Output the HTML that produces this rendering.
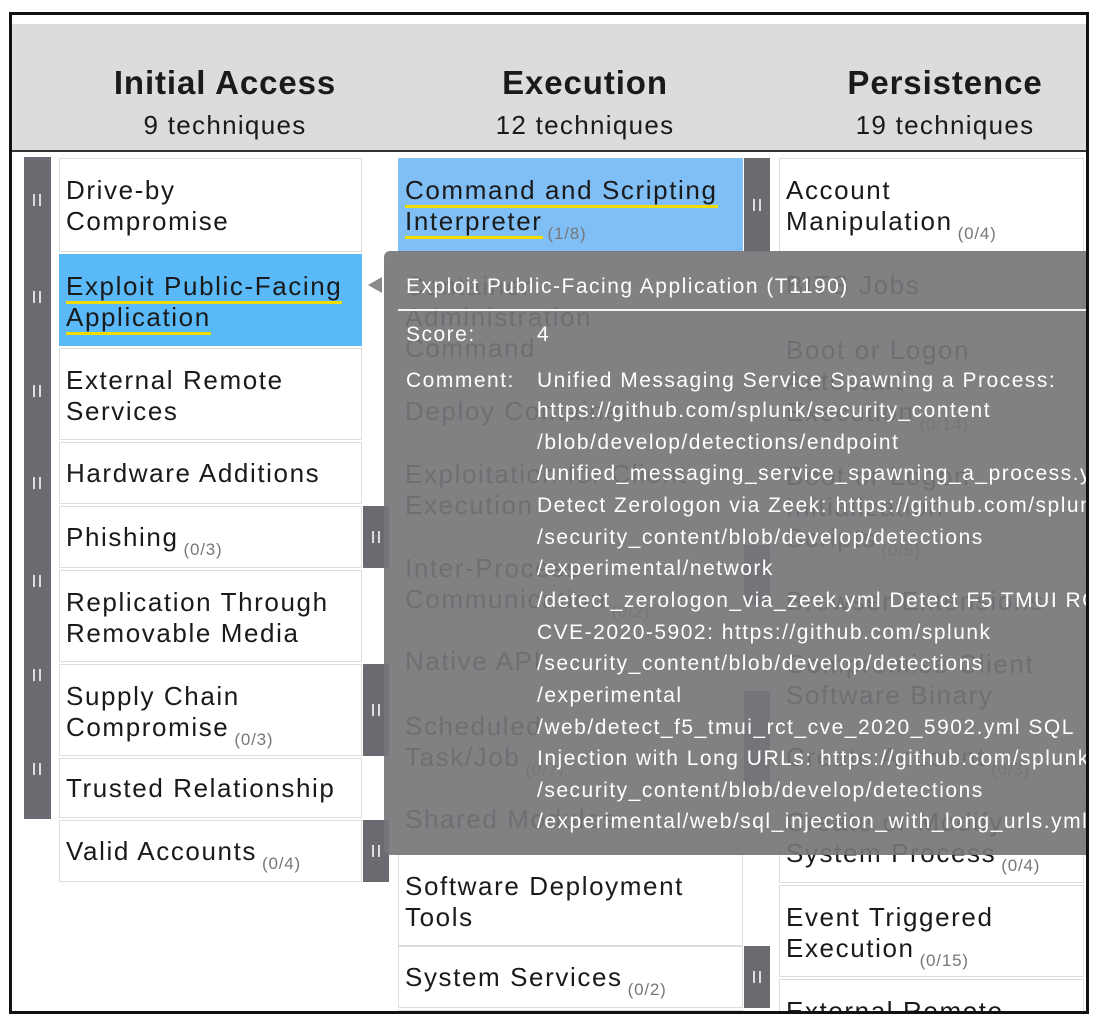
<!DOCTYPE html>
<html><head><meta charset="utf-8"><style>
*{margin:0;padding:0;box-sizing:border-box}
body{width:1100px;height:1028px;background:#fff;position:relative;overflow:hidden;font-family:"Liberation Sans",Arial,sans-serif;color:#1a1a1a}
.frame{position:absolute;left:9px;top:12px;width:1080px;height:1002px;border:3px solid #111;overflow:hidden;background:#fff}
.hdr{position:absolute;left:0;top:9px;width:1080px;height:128px;background:#dcdbdd;border-bottom:2px solid #333}
.ht{position:absolute;width:340px;text-align:center;font-weight:bold;font-size:33px;letter-spacing:0.9px;top:40px}
.hs{position:absolute;width:340px;text-align:center;font-size:26px;letter-spacing:1.3px;top:86px}
.c{position:absolute;border:1px solid #ddd;background:#fff;font-size:26px;letter-spacing:1.6px;line-height:31px;padding:16px 0 0 6px;white-space:nowrap;overflow:hidden}
.s{font-size:17px;letter-spacing:0.8px;color:#777;position:relative;top:9px;margin-left:5px}
.bar{position:absolute;background:#6a6b70}
.h{position:absolute;background:#6a6b70;width:26px}
.ii{position:absolute;width:8px;height:12px;border-left:2px solid #ddd;border-right:2px solid #ddd;left:9px}
.u{border-bottom:3px solid #f0dc00;padding-bottom:0}
.tip{position:absolute;left:372px;top:236px;width:720px;height:604px;background:rgba(118,117,120,0.92);border-radius:6px 0 0 6px;overflow:hidden;color:#fff;font-size:21px;letter-spacing:1.5px;white-space:nowrap}
.tl{position:absolute;left:153px;}
</style></head><body>
<div class="frame">
<div class="hdr">
<div class="ht" style="left:43px">Initial Access</div><div class="hs" style="left:43px">9 techniques</div>
<div class="ht" style="left:403px">Execution</div><div class="hs" style="left:403px">12 techniques</div>
<div class="ht" style="left:763px">Persistence</div><div class="hs" style="left:763px">19 techniques</div>
</div>
<div class="bar" style="left:12px;top:142px;width:27px;height:662px"></div>
<div class="ii" style="left:21px;top:179px"></div>
<div class="ii" style="left:21px;top:276px"></div>
<div class="ii" style="left:21px;top:370px"></div>
<div class="ii" style="left:21px;top:462px"></div>
<div class="ii" style="left:21px;top:560px"></div>
<div class="ii" style="left:21px;top:654px"></div>
<div class="ii" style="left:21px;top:748px"></div>
<div class="c" style="left:47px;top:143px;width:303px;height:94px">Drive-by<br>Compromise</div>
<div class="c" style="left:47px;top:239px;width:303px;height:92px;background:#5ab9f8;border-color:#5ab9f8"><span class="u">Exploit Public-Facing</span><br><span class="u">Application</span></div>
<div class="c" style="left:47px;top:333px;width:303px;height:92px">External Remote<br>Services</div>
<div class="c" style="left:47px;top:427px;width:303px;height:62px;padding-top:15px">Hardware Additions</div>
<div class="c" style="left:47px;top:491px;width:303px;height:62px;padding-top:15px">Phishing<span class="s">(0/3)</span></div>
<div class="c" style="left:47px;top:555px;width:303px;height:92px">Replication Through<br>Removable Media</div>
<div class="c" style="left:47px;top:649px;width:303px;height:92px">Supply Chain<br>Compromise<span class="s">(0/3)</span></div>
<div class="c" style="left:47px;top:743px;width:303px;height:60px;padding-top:14px">Trusted Relationship</div>
<div class="c" style="left:47px;top:805px;width:303px;height:62px;padding-top:15px">Valid Accounts<span class="s">(0/4)</span></div>
<div class="h" style="left:351px;top:491px;height:62px"><div class="ii" style="top:25px"></div></div>
<div class="h" style="left:351px;top:649px;height:92px"><div class="ii" style="top:40px"></div></div>
<div class="h" style="left:351px;top:805px;height:62px"><div class="ii" style="top:25px"></div></div>
<div class="c" style="left:386px;top:143px;width:345px;height:94px;background:#80bff6;border-color:#80bff6"><span class="u">Command and Scripting</span><br><span class="u">Interpreter</span><span class="s">(1/8)</span></div>
<div class="h" style="left:732px;top:143px;height:94px"><div class="ii" style="top:41px"></div></div>
<div class="c" style="left:386px;top:239px;width:345px;height:124px">Container<br>Administration<br>Command</div>
<div class="c" style="left:386px;top:365px;width:345px;height:62px;padding-top:15px">Deploy Container</div>
<div class="c" style="left:386px;top:427px;width:345px;height:92px">Exploitation for Client<br>Execution</div>
<div class="c" style="left:386px;top:521px;width:345px;height:92px">Inter-Process<br>Communication<span class="s">(0/2)</span></div>
<div class="c" style="left:386px;top:615px;width:345px;height:62px;padding-top:15px">Native API</div>
<div class="c" style="left:386px;top:679px;width:345px;height:92px">Scheduled<br>Task/Job<span class="s">(0/7)</span></div>
<div class="c" style="left:386px;top:773px;width:345px;height:62px;padding-top:15px">Shared Modules</div>
<div class="c" style="left:386px;top:839px;width:345px;height:92px">Software Deployment<br>Tools</div>
<div class="c" style="left:386px;top:931px;width:345px;height:62px;padding-top:15px">System Services<span class="s">(0/2)</span></div>
<div class="c" style="left:386px;top:995px;width:345px;height:40px"></div>
<div class="h" style="left:732px;top:530px;height:60px"></div>
<div class="h" style="left:732px;top:676px;height:94px"></div>
<div class="h" style="left:732px;top:931px;height:62px"><div class="ii" style="top:25px"></div></div>
<div class="c" style="left:767px;top:143px;width:305px;height:94px">Account<br>Manipulation<span class="s">(0/4)</span></div>
<div class="c" style="left:767px;top:239px;width:305px;height:62px;padding-top:15px">BITS Jobs</div>
<div class="c" style="left:767px;top:303px;width:305px;height:124px">Boot or Logon<br>Autostart<br>Execution<span class="s">(0/14)</span></div>
<div class="c" style="left:767px;top:429px;width:305px;height:124px">Boot or Logon<br>Initialization<br>Scripts<span class="s">(0/5)</span></div>
<div class="c" style="left:767px;top:555px;width:305px;height:62px;padding-top:15px">Browser Extensions</div>
<div class="c" style="left:767px;top:617px;width:305px;height:92px">Compromise Client<br>Software Binary</div>
<div class="c" style="left:767px;top:711px;width:305px;height:62px;padding-top:15px">Create Account<span class="s">(0/3)</span></div>
<div class="c" style="left:767px;top:775px;width:305px;height:93px">Create or Modify<br>System Process<span class="s">(0/4)</span></div>
<div class="c" style="left:767px;top:870px;width:305px;height:92px">Event Triggered<br>Execution<span class="s">(0/15)</span></div>
<div class="c" style="left:767px;top:964px;width:305px;height:60px">External Remote</div>
<div style="position:absolute;left:356px;top:262px;width:0;height:0;border-top:8px solid transparent;border-bottom:8px solid transparent;border-right:14px solid #8a898c"></div>
<div class="tip">
<div style="position:absolute;left:22px;top:24px">Exploit Public-Facing Application (T1190)</div>
<div style="position:absolute;left:14px;top:58px;width:720px;height:2px;background:#f4f4f4"></div>
<div style="position:absolute;left:22px;top:72px">Score:</div>
<div style="position:absolute;left:153px;top:72px">4</div>
<div style="position:absolute;left:22px;top:118px">Comment:</div>
<div class="tl" style="top:118px">Unified Messaging Service Spawning a Process:</div>
<div class="tl" style="top:148px">https://github.com/splunk/security_content</div>
<div class="tl" style="top:180px">/blob/develop/detections/endpoint</div>
<div class="tl" style="top:211px">/unified_messaging_service_spawning_a_process.yml</div>
<div class="tl" style="top:243px">Detect Zerologon via Zeek: https://github.com/splunk</div>
<div class="tl" style="top:275px">/security_content/blob/develop/detections</div>
<div class="tl" style="top:306px">/experimental/network</div>
<div class="tl" style="top:338px">/detect_zerologon_via_zeek.yml Detect F5 TMUI RCE</div>
<div class="tl" style="top:370px">CVE-2020-5902: https://github.com/splunk</div>
<div class="tl" style="top:401px">/security_content/blob/develop/detections</div>
<div class="tl" style="top:433px">/experimental</div>
<div class="tl" style="top:465px">/web/detect_f5_tmui_rct_cve_2020_5902.yml SQL</div>
<div class="tl" style="top:496px">Injection with Long URLs: https://github.com/splunk</div>
<div class="tl" style="top:528px">/security_content/blob/develop/detections</div>
<div class="tl" style="top:559px">/experimental/web/sql_injection_with_long_urls.yml</div>
</div>
</div>
</body></html>
